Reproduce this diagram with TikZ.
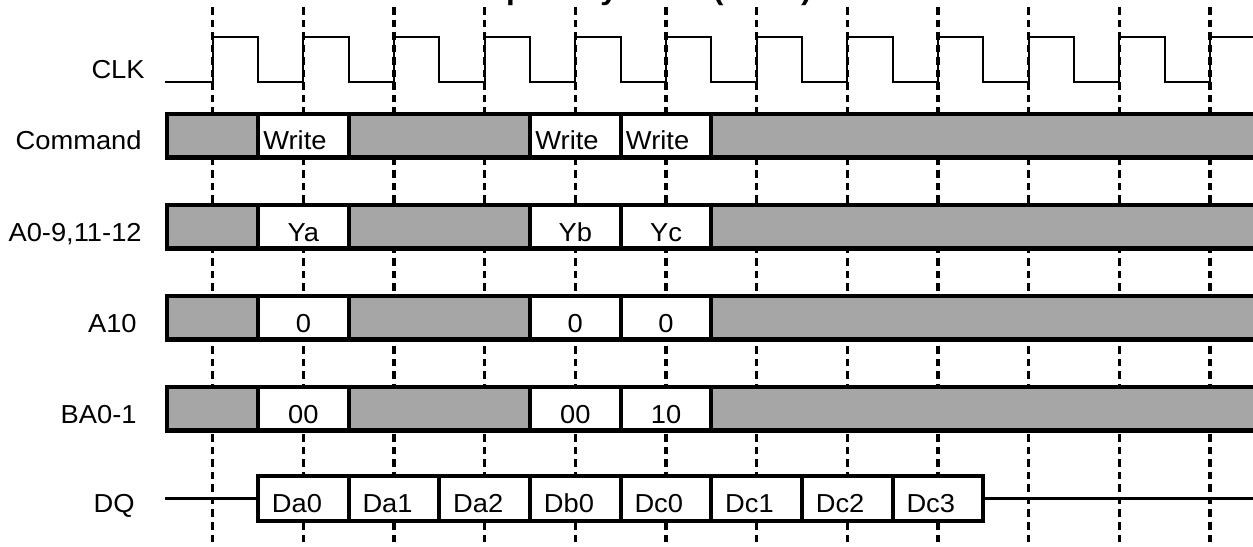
\documentclass[tikz,border=0pt]{standalone}
\usepackage{fontspec}
\setmainfont{Liberation Sans}
\definecolor{busgrey}{HTML}{A6A6A6}

\begin{document}
\begin{tikzpicture}[x=0.02cm, y=-0.02cm,
    txt/.style={font=\fontsize{14.8}{17}\selectfont, xscale=1.05, inner sep=0pt},
    sig/.style={txt, anchor=base east},
    cellc/.style={txt, anchor=base},
    cellw/.style={txt, anchor=base west},
    gridline/.style={line width=1.9pt, dash pattern=on 4.3pt off 2.85pt},
    clk/.style={line width=1.2pt},
    bus/.style={line width=2.3pt},
    dqline/.style={line width=1.5pt}]
    \useasboundingbox (0,0) rectangle (1253,547);
    \clip (0,0) rectangle (1253,547);

    % Title (cut off by the top edge)
    \node[txt, font=\bfseries\fontsize{17}{20}\selectfont, anchor=base west] (title) at (320,0) {Write Interrupted by Write (BL=4)};

    % Clock edges
    \foreach \k in {0,...,11}
        \draw[gridline] ({212.7+\k*90.66},7) -- ++(0,545);

    % CLK
    \draw[clk] (165,82) -- (212.7,82)
        \foreach \k in {0,...,11} { -- ++(0,-45) -- ++(45.33,0) -- ++(0,45) -- ++(45.33,0) };

    % Bus rows
    \foreach \y in {114,205,296,387} {
        \fill[busgrey] (167,\y) rectangle (1262,\y+43.5);
        \fill[white] (258,\y) rectangle (348.7,\y+43.5) (530,\y) rectangle (711.3,\y+43.5);
        \draw[bus] (167,\y) rectangle (1262,\y+43.5);
        \foreach \d in {258,348.7,530,620.6,711.3}
            \draw[bus] (\d,\y) -- (\d,\y+43.5);
    }

    % DQ
    \draw[dqline] (165,498.5) -- (258,498.5);
    \draw[dqline] (983.3,498.5) -- (1262,498.5);
    \filldraw[bus, fill=white] (258,476) rectangle (983.3,521);
    \foreach \d in {348.7,439.3,530,620.6,711.3,802,892.6}
        \draw[bus] (\d,476) -- (\d,521);

    % Signal names
    \node[sig] (lclk) at (145,79) {CLK};
    \node[sig] (lcmd) at (142,150) {Command};
    \node[sig] (laddr) at (142,241) {A0-9,11-12};
    \node[sig] (la10) at (137,332) {A10};
    \node[sig] (lba) at (137,423) {BA0-1};
    \node[sig] (ldq) at (135,512) {DQ};

    % Values
    \node[cellw] (cmda) at (263,150) {Write};
    \node[cellw] (cmdb) at (535,150) {Write};
    \node[cellw] (cmdc) at (625.6,150) {Write};
    \node[cellc] (ya) at (303.4,241) {Ya};
    \node[cellc] (yb) at (575.3,241) {Yb};
    \node[cellc] (yc) at (666,241) {Yc};
    \node[cellc] (apa) at (303.4,332) {0};
    \node[cellc] (apb) at (575.3,332) {0};
    \node[cellc] (apc) at (666,332) {0};
    \node[cellc] (baa) at (303.4,423) {00};
    \node[cellc] (bab) at (575.3,423) {00};
    \node[cellc] (bac) at (666,423) {10};
    \foreach \t [count=\i from 0] in {Da0,Da1,Da2,Db0,Dc0,Dc1,Dc2,Dc3}
        \node[cellw] (dq\i) at ({258+\i*90.66+13.5},512) {\t};
\end{tikzpicture}
\end{document}
